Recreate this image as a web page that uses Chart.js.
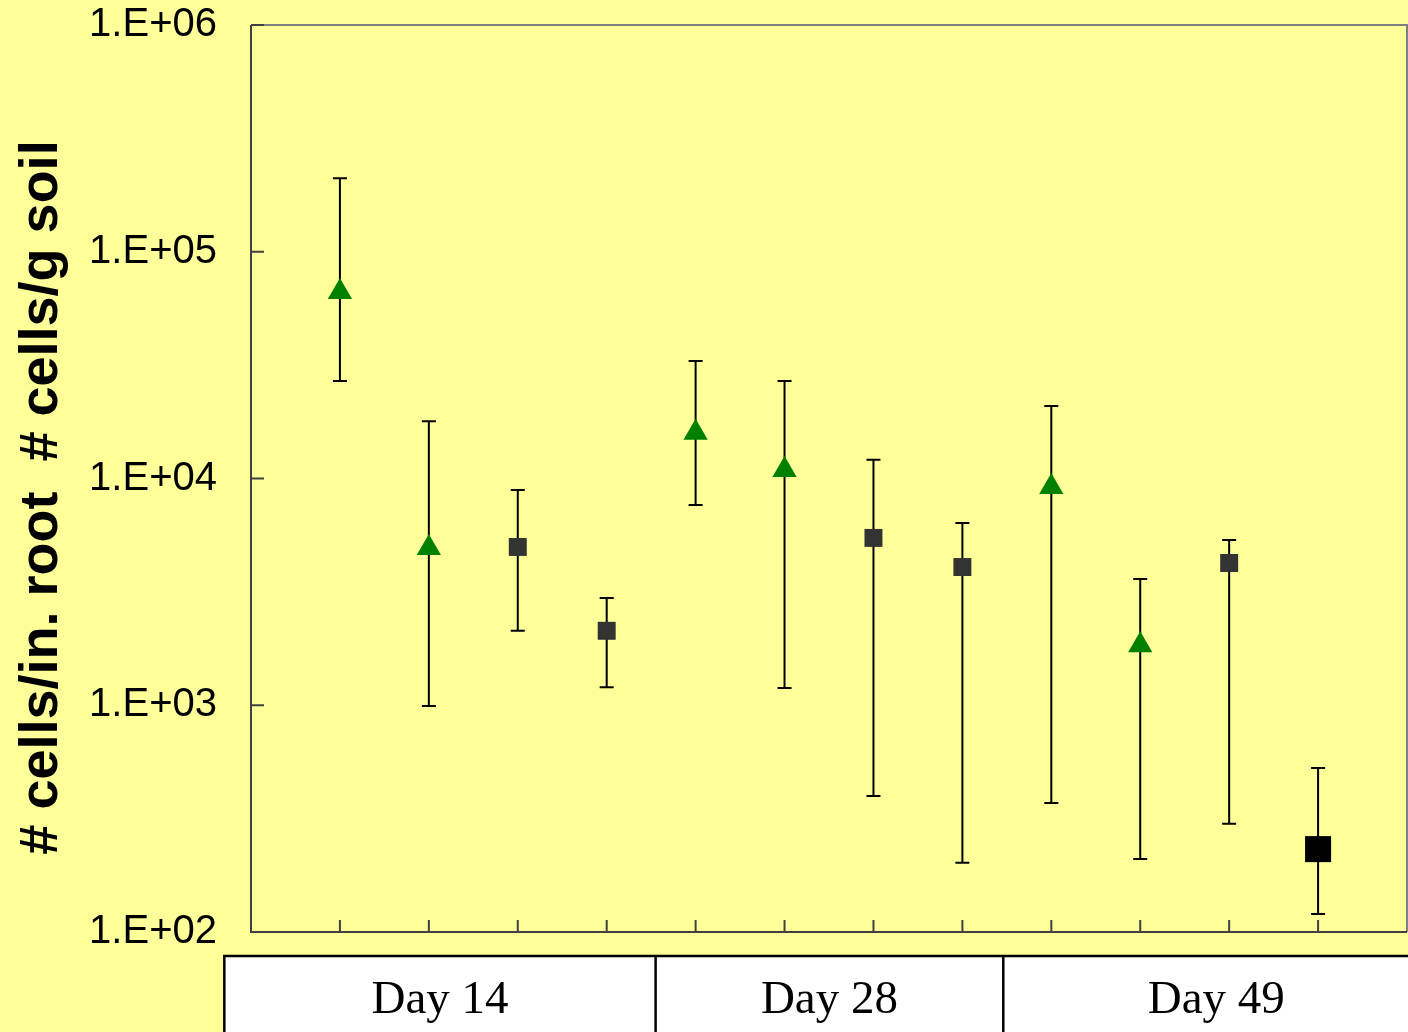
<!DOCTYPE html>
<html>
<head>
<meta charset="utf-8">
<script src="https://cdn.jsdelivr.net/npm/chart.js@4.4.1/dist/chart.umd.min.js"></script>
<style>
  html, body { margin: 0; padding: 0; background: #ffff99; }
  #wrap { width: 1408px; height: 1032px; }
</style>
</head>
<body>
<div id="wrap"><canvas id="cellChart"></canvas></div>
<script>
// sampling days, each covering four consecutive points
const groups = ["Day 14", "Day 28", "Day 49"];
const markers = ["triangle", "triangle", "square", "square", "triangle", "triangle", "square", "square", "triangle", "triangle", "square", "bigSquare"];
const means = [66500, 4940, 4990, 2130, 15900, 10900, 5470, 4070, 9170, 1840, 4240, 232];
const upper = [211000, 17900, 8900, 2970, 33000, 26900, 12100, 6360, 20900, 3600, 5360, 529];
const lower = [26900, 992, 2130, 1200, 7640, 1190, 398, 202, 371, 210, 300, 120];
const yTickValues = [100, 1000, 10000, 100000, 1000000];
const yTickLabels = ["1.E+02", "1.E+03", "1.E+04", "1.E+05", "1.E+06"];
const yTitle = "# cells/in. root  # cells/g soil";

const markerStyles = {
  triangle: { style: "triangle", radius: 14, color: "#008000" },
  square: { style: "rect", radius: 12.7, color: "#333333" },
  bigSquare: { style: "rect", radius: 18.4, color: "#000000" },
};

const points = means.map((v, i) => ({ x: i + 1, y: v }));

// frame, inward ticks, error bars, axis title and the day boxes under the axis
const extras = {
  id: "extras",
  beforeDatasetsDraw(chart) {
    const { ctx, chartArea: a } = chart;
    const xs = chart.scales.x;
    const ys = chart.scales.y;
    ctx.save();

    // top and right border (grey)
    ctx.strokeStyle = "#808080";
    ctx.lineWidth = 2;
    ctx.beginPath();
    ctx.moveTo(a.left, a.top);
    ctx.lineTo(a.right, a.top);
    ctx.lineTo(a.right, a.bottom);
    ctx.stroke();

    // left and bottom axis
    ctx.strokeStyle = "#404040";
    ctx.beginPath();
    ctx.moveTo(a.left, a.top);
    ctx.lineTo(a.left, a.bottom);
    ctx.lineTo(a.right, a.bottom);
    ctx.stroke();

    // tick marks pointing inside
    yTickValues.forEach((v) => {
      const y = ys.getPixelForValue(v);
      ctx.beginPath();
      ctx.moveTo(a.left, y);
      ctx.lineTo(a.left + 13, y);
      ctx.stroke();
    });
    points.forEach((p) => {
      const x = xs.getPixelForValue(p.x);
      ctx.beginPath();
      ctx.moveTo(x, a.bottom);
      ctx.lineTo(x, a.bottom - 12);
      ctx.stroke();
    });

    // error bars
    ctx.strokeStyle = "#000000";
    ctx.lineWidth = 2;
    points.forEach((p, i) => {
      const x = xs.getPixelForValue(p.x);
      const yTop = ys.getPixelForValue(upper[i]);
      const yBot = ys.getPixelForValue(lower[i]);
      ctx.beginPath();
      ctx.moveTo(x, yTop);
      ctx.lineTo(x, yBot);
      ctx.moveTo(x - 7, yTop);
      ctx.lineTo(x + 7, yTop);
      ctx.moveTo(x - 7, yBot);
      ctx.lineTo(x + 7, yBot);
      ctx.stroke();
    });
    ctx.restore();
  },
  afterDraw(chart) {
    const { ctx, chartArea: a } = chart;
    const xs = chart.scales.x;

    // y axis title, a bit below the middle of the plot like the original
    ctx.save();
    ctx.translate(42, (a.top + a.bottom) / 2 + 19);
    ctx.rotate(-Math.PI / 2);
    ctx.fillStyle = "#000000";
    ctx.font = "bold 54px 'Liberation Sans', Arial, sans-serif";
    ctx.textAlign = "center";
    ctx.textBaseline = "middle";
    ctx.fillText(yTitle, 0, 0);
    ctx.restore();

    // box edges in x units: left overhang, between groups, right overhang
    const edges = [-0.3, 4.55, 8.46, 13.25].map((v) => xs.getPixelForValue(v));
    const top = a.bottom + 24;
    ctx.save();
    ctx.fillStyle = "#ffffff";
    ctx.fillRect(edges[0], top, edges[3] - edges[0], chart.height - top + 10);
    ctx.strokeStyle = "#000000";
    ctx.lineWidth = 2.5;
    ctx.strokeRect(edges[0], top, edges[3] - edges[0], chart.height - top + 10);
    ctx.beginPath();
    ctx.moveTo(edges[1], top);
    ctx.lineTo(edges[1], chart.height);
    ctx.moveTo(edges[2], top);
    ctx.lineTo(edges[2], chart.height);
    ctx.stroke();

    ctx.fillStyle = "#000000";
    ctx.font = "47px 'Liberation Serif', 'Times New Roman', serif";
    ctx.textAlign = "center";
    ctx.textBaseline = "alphabetic";
    groups.forEach((g, i) => {
      ctx.fillText(g, (edges[i] + edges[i + 1]) / 2, a.bottom + 81);
    });
    ctx.restore();
  },
};

const ctx = document.getElementById("cellChart").getContext("2d");
const cellChart = new Chart(ctx, {
  type: "scatter",
  data: {
    datasets: [
      {
        data: points,
        pointStyle: markers.map((m) => markerStyles[m].style),
        pointRadius: markers.map((m) => markerStyles[m].radius),
        pointHoverRadius: markers.map((m) => markerStyles[m].radius),
        backgroundColor: markers.map((m) => markerStyles[m].color),
        borderColor: markers.map((m) => markerStyles[m].color),
        borderWidth: 0,
      },
    ],
  },
  options: {
    responsive: true,
    maintainAspectRatio: false,
    animation: false,
    layout: {
      autoPadding: false,
      padding: { top: 25, right: 1, bottom: 100, left: 0 },
    },
    plugins: {
      legend: { display: false },
      tooltip: { enabled: false },
    },
    scales: {
      x: {
        type: "linear",
        min: 0,
        max: 13,
        display: false,
      },
      y: {
        type: "logarithmic",
        min: 100,
        max: 1000000,
        afterBuildTicks: (scale) => {
          scale.ticks = yTickValues.map((v) => ({ value: v }));
        },
        afterFit: (scale) => {
          // fixed axis width; the top/bottom labels may overhang the frame
          scale.width = 251;
          scale.paddingTop = 0;
          scale.paddingBottom = 0;
        },
        grid: { display: false, drawTicks: false },
        border: { display: false },
        ticks: {
          padding: 34,
          color: "#000000",
          font: { family: "'Liberation Sans', Arial, sans-serif", size: 40, lineHeight: 1.1 },
          callback: (v) => yTickLabels[yTickValues.indexOf(v)],
        },
      },
    },
  },
  plugins: [extras],
});
</script>
</body>
</html>
